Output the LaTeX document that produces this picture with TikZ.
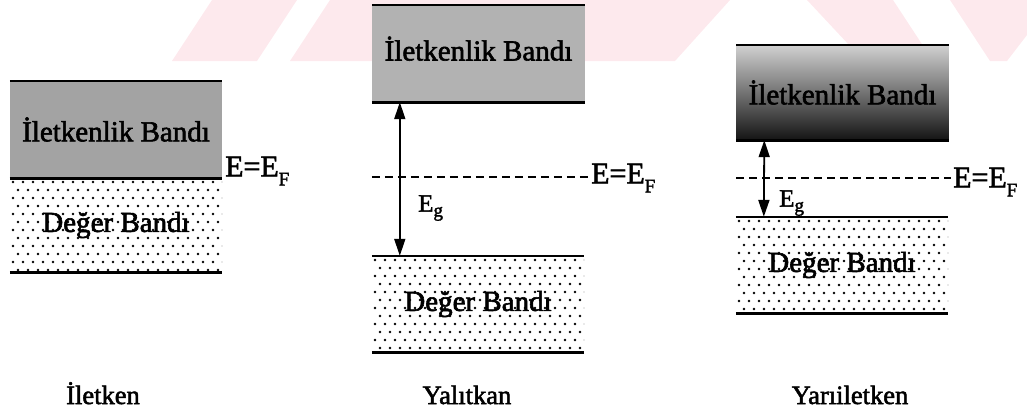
\documentclass[tikz,border=0pt]{standalone}
\usepackage{fontspec}
\setmainfont{Liberation Serif}[FakeBold=2]
\usetikzlibrary{arrows.meta}
\definecolor{wmark}{RGB}{253,233,237}
\newcommand\lowsub[2]{\raisebox{-#2}{\fontsize{19}{19}\selectfont #1}}

\begin{document}
\begin{tikzpicture}[
    x=1pt, y=-1pt,
    band/.style={rectangle, inner sep=0pt, minimum width=212, minimum height=96, font=\fontsize{29}{32}\selectfont},
    cband/.style={band, fill=black!36},
    vband/.style={band, fill=white, path picture={
        \foreach \r in {0,...,12}
          \foreach \c in {0,...,21}
            \fill[black] ([shift={({3+10*\c+5*mod(\r,2)},{4+8*\r})}]path picture bounding box.north west) circle (1.45);
    }},
    edge/.style={line width=2.6pt},
    fermi/.style={line width=1.4pt, dash pattern=on 8pt off 5pt},
    gap/.style={{Triangle[length=17pt,width=11pt]}-{Triangle[length=17pt,width=11pt]}, line width=1.8pt},
    level/.style={font=\fontsize{30}{32}\selectfont, inner sep=2pt},
    gaplabel/.style={font=\fontsize{25}{28}\selectfont, inner sep=2pt},
    caption/.style={font=\fontsize{26.5}{30}\selectfont, anchor=base}
]
\useasboundingbox (0,0) rectangle (1027,413);

% watermark
\fill[wmark] (172,61) -- (212,0) -- (297,0) -- (257,61) -- cycle;
\fill[wmark] (290,61) -- (330,0) -- (730,0) -- (675,61) -- cycle;
\fill[wmark] (807,0) -- (893,0) -- (933,61) -- (864,61) -- cycle;
\fill[wmark] (950,0) -- (1027,0) -- (1027,35) -- (1007,61) -- (990,61) -- cycle;

% bands
\node[cband, minimum height=97] (cond-metal) at (116,129.5) {İletkenlik Bandı};
\node[vband, minimum height=94] (val-metal) at (116,225) {Değer Bandı};
\node[cband, fill=black!30, minimum width=213, minimum height=97, text depth=10pt] (cond-ins) at (478.5,53.5) {İletkenlik Bandı};
\node[vband] (val-ins) at (478,304) {Değer Bandı};
\node[cband, top color=black!18, middle color=black!52, bottom color=black!92, minimum height=95] (cond-semi) at (842.5,92.5) {İletkenlik Bandı};
\node[vband] (val-semi) at (842,265) {Değer Bandı};

\foreach \b in {cond-metal, val-metal, cond-ins, val-ins, cond-semi, val-semi}
  \draw[edge] (\b.north west) -- (\b.north east) (\b.south west) -- (\b.south east);

% Fermi levels
\node[level, anchor=west] (ef-metal) at (223,171) {E=E\lowsub{F}{0.3em}};
\node[level, anchor=west] (ef-ins) at (589,178) {E=E\lowsub{F}{0.3em}};
\node[level, anchor=west] (ef-semi) at (951,182) {E=E\lowsub{F}{0.3em}};
\draw[fermi] (cond-ins.west |- 0,177) -- (ef-ins.west |- 0,177);
\draw[fermi] (cond-semi.west |- 0,178) -- (ef-semi.west |- 0,178);

% band gaps
\draw[gap] ([xshift=28]cond-ins.south west) -- ([xshift=28]val-ins.north west);
\draw[gap] ([xshift=28]cond-semi.south west) -- ([xshift=28]val-semi.north west);
\node[gaplabel, anchor=west] (eg-ins) at (416,208) {E\lowsub{g}{0.2em}};
\node[gaplabel, anchor=west] (eg-semi) at (777,203) {E\lowsub{g}{0.2em}};

\node[caption] (metal) at (103,404) {İletken};
\node[caption] (insulator) at (467,404) {Yalıtkan};
\node[caption] (semi) at (850,404) {Yarıiletken};

\end{tikzpicture}
\end{document}
